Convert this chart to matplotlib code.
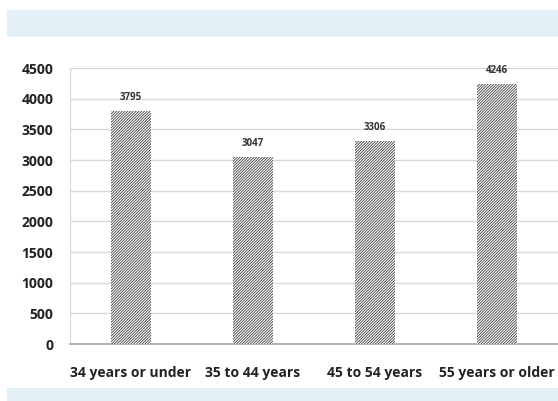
import matplotlib.pyplot as plt
from matplotlib.patches import Rectangle

plt.rcParams["font.family"] = ["Open Sans", "DejaVu Sans"]
plt.rcParams["hatch.linewidth"] = 0.6

categories = ["34 years or under", "35 to 44 years", "45 to 54 years", "55 years or older"]
values = [3795, 3047, 3306, 4246]
yticks = [0, 500, 1000, 1500, 2000, 2500, 3000, 3500, 4000, 4500]

W, H = 558, 401
fig = plt.figure(figsize=(W / 100, H / 100), dpi=100)

# light blue bands at top and bottom
band = "#e2f0f5"
fig.patches.append(Rectangle((7 / W, 1 - 37 / H), 1, 27 / H, transform=fig.transFigure,
                             facecolor=band, edgecolor="none", zorder=0))
fig.patches.append(Rectangle((7 / W, 0), 1, 13 / H, transform=fig.transFigure,
                             facecolor=band, edgecolor="none", zorder=0))

ax = fig.add_axes([70 / W, 1 - 344 / H, (558 - 70) / W, (344 - 68) / H])

x = range(len(categories))
bars = ax.bar(x, values, width=0.32, color="white", edgecolor="#404040",
              hatch="/" * 12, linewidth=0, zorder=3)

for xi, v in zip(x, values):
    ax.text(xi, v + 130, str(v), ha="center", va="bottom", fontsize=7,
            fontweight="bold", color="#333333")

ax.set_xlim(-0.5, len(categories) - 0.5)
ax.set_ylim(0, 4500)
ax.set_yticks(yticks)
ax.set_xticks(list(x))
ax.set_xticklabels(categories)
ax.tick_params(axis="both", length=0, labelsize=10, colors="#222222")
ax.tick_params(axis="x", pad=16)
ax.tick_params(axis="y", pad=12)
for lab in ax.get_xticklabels() + ax.get_yticklabels():
    lab.set_fontweight("bold")

ax.grid(axis="y", color="#d9d9d9", linewidth=1, zorder=0)
for s in ["top", "right"]:
    ax.spines[s].set_visible(False)
ax.spines["left"].set_color("#d9d9d9")
ax.spines["bottom"].set_color("#a6a6a6")
ax.spines["bottom"].set_linewidth(1.2)

plt.savefig("out.png", dpi=100, facecolor="white")
plt.close()
